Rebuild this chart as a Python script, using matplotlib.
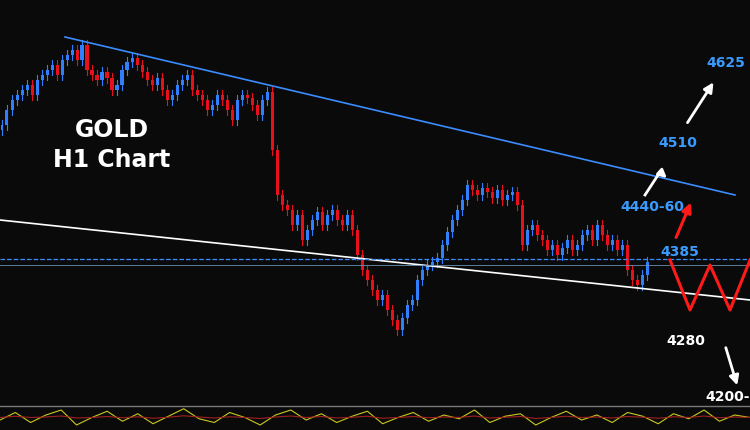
import matplotlib
matplotlib.use('Agg')
import matplotlib.pyplot as plt
import numpy as np

# hourly closes (open = previous close)
closes = [4520, 4535, 4545, 4550, 4555, 4560, 4550, 4565, 4570, 4575, 4580, 4570, 4585, 4590, 4595, 4585, 4600,
          4575, 4570, 4565, 4573, 4567, 4555, 4560, 4575, 4583, 4587,
          4580, 4573, 4565, 4560, 4567, 4555, 4545, 4550, 4560, 4565, 4570, 4555, 4550, 4545, 4535, 4540, 4550,
          4545, 4535, 4525, 4545, 4550, 4547, 4540, 4530, 4545, 4553,
          4495, 4450, 4440, 4435,
          4420, 4430, 4405, 4415, 4425, 4433, 4420, 4430, 4435, 4425, 4420, 4430, 4415,
          4390, 4375, 4365, 4355, 4345, 4350, 4335, 4325, 4315, 4327,
          4340, 4345, 4365, 4375, 4380, 4383, 4387, 4400, 4413,
          4425, 4435, 4445, 4460, 4455, 4450, 4457, 4453, 4447, 4455, 4445, 4450, 4453, 4440,
          4400, 4415, 4420, 4410, 4405, 4395, 4400, 4390, 4397, 4405, 4395, 4400, 4410, 4415, 4405, 4420, 4410, 4400,
          4405, 4395, 4400, 4375, 4365, 4360, 4370, 4383]
first_open = 4515
wick = 5

# oscillator strip values
osc = [40, 70, 30, 60, 80, 20, 50, 75, 35, 65, 25, 55, 85, 45, 30, 70, 50, 20, 60, 80,
       40, 65, 30, 55, 75, 25, 50, 70, 35, 60, 45, 80, 30, 55, 65, 20, 50, 75, 40, 60,
       30, 70, 55, 25, 65, 45, 80, 35, 60, 50]
osc_slow = [50, 55, 50, 52, 56, 48, 50, 54, 49, 53, 47, 51, 57, 52, 48, 53, 50, 46, 52, 56,
            50, 54, 48, 51, 55, 47, 50, 54, 49, 52, 50, 56, 48, 51, 54, 46, 50, 55, 50, 52,
            48, 54, 51, 47, 53, 50, 56, 49, 52, 50]

fig = plt.figure(figsize=(7.5, 4.3), dpi=100, facecolor='#0a0a0a')
ax = fig.add_axes([0, 25 / 430, 1, 405 / 430])
ax.set_facecolor('#0a0a0a')
ax.set_xlim(0, 150)
ax.set_ylim(4240, 4645)
ax.axis('off')

opens = [first_open] + closes[:-1]
for i, (o, c) in enumerate(zip(opens, closes)):
    col = '#2f7fff' if c >= o else '#e8101a'
    x = i + 0.4
    ax.plot([x, x], [min(o, c) - wick, max(o, c) + wick], color=col, lw=0.8)
    ax.add_patch(plt.Rectangle((x - 0.3, min(o, c)), 0.6, max(abs(c - o), 0.8), color=col, lw=0))

# trend lines and levels
ax.plot([13, 147], [4608, 4450], color='#3a8cff', lw=1.2)
ax.plot([0, 150], [4425, 4345], color='white', lw=1.2)
ax.axhline(4386, color='#3a8cff', lw=0.9, ls='--')
ax.axhline(4380, color='#6a8fb0', lw=0.6)

# projections
ax.plot([134, 138, 142, 146, 150], [4385, 4335, 4380, 4335, 4385], color='#ff1a1a', lw=2.2)
ax.annotate('', xy=(138.4, 4445), xytext=(135, 4405),
            arrowprops=dict(arrowstyle='-|>', color='#ff1a1a', lw=2.2, mutation_scale=14))
ax.plot([129, 132], [4450, 4473], color='white', lw=2)
ax.annotate('', xy=(133.8, 4465), xytext=(132, 4473),
            arrowprops=dict(arrowstyle='-|>', color='white', lw=2, mutation_scale=12))
ax.annotate('', xy=(143, 4565), xytext=(137.2, 4520),
            arrowprops=dict(arrowstyle='-|>', color='white', lw=2, mutation_scale=14))
ax.annotate('', xy=(147.6, 4257), xytext=(145, 4300),
            arrowprops=dict(arrowstyle='-|>', color='white', lw=2, mutation_scale=14))

lab = dict(fontsize=10, fontweight='bold', ha='center', va='center')
ax.text(145.2, 4582, '4625', color='#3a9bff', **lab)
ax.text(135.6, 4502, '4510', color='#3a9bff', **lab)
ax.text(130.4, 4438, '4440-60', color='#3a9bff', **lab)
ax.text(136, 4393, '4385', color='#3a9bff', **lab)
ax.text(137.2, 4304, '4280', color='white', **lab)
ax.text(141.0, 4248, '4200-2', color='white', fontsize=10, fontweight='bold', ha='left', va='center')

ax.text(22.4, 4515, 'GOLD', color='white', fontsize=17, fontweight='bold', ha='center', va='center')
ax.text(22.4, 4485, 'H1 Chart', color='white', fontsize=17, fontweight='bold', ha='center', va='center')

# oscillator strip
ax2 = fig.add_axes([0, 0, 1, 25 / 430])
ax2.set_facecolor('#1a1a1a')
ax2.set_xlim(0, len(osc) - 1)
ax2.set_ylim(0, 100)
ax2.axis('off')
xs = np.arange(len(osc))
ax2.plot(xs, osc, color='#c8c820', lw=0.8)
ax2.plot(xs, osc_slow, color='#a02020', lw=0.8)
ax2.axhline(95, color='#777777', lw=1)

fig.savefig('out.png', dpi=100, facecolor=fig.get_facecolor())
